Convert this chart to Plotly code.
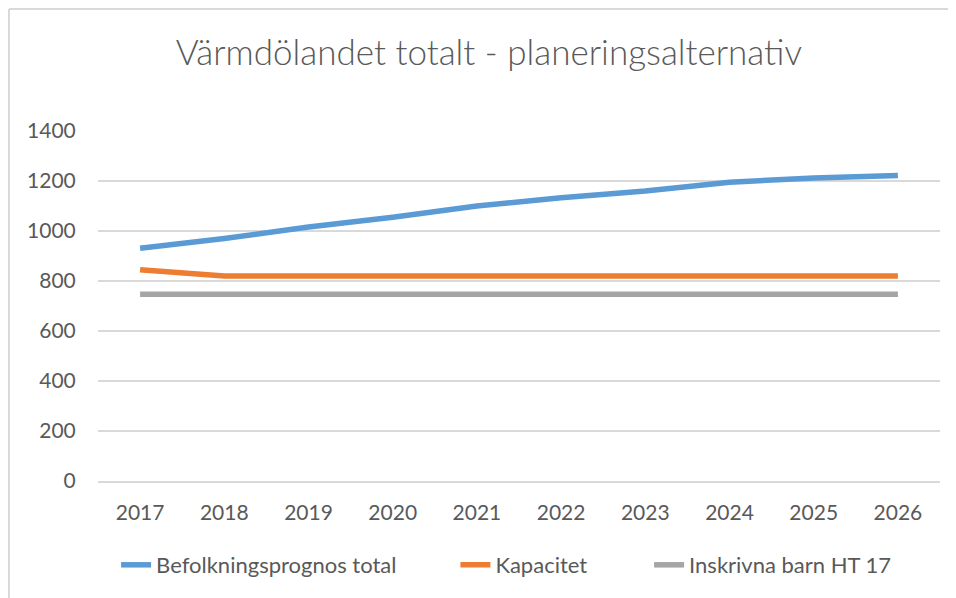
import plotly.graph_objects as go

years = ["2017", "2018", "2019", "2020", "2021", "2022", "2023", "2024", "2025", "2026"]
befolkning = [931, 970, 1016, 1055, 1100, 1133, 1160, 1195, 1212, 1222]
kapacitet = [845, 820, 820, 820, 820, 820, 820, 820, 820, 820]
inskrivna = [747, 747, 747, 747, 747, 747, 747, 747, 747, 747]

series = [
    ("Befolkningsprognos total", befolkning, "#5B9BD5", "legend", 0.0215),
    ("Kapacitet", kapacitet, "#ED7D31", "legend2", 0.4245),
    ("Inskrivna barn HT 17", inskrivna, "#A5A5A5", "legend3", 0.6545),
]

FONT = "Lato, 'Open Sans', sans-serif"
TEXT = "#595959"
GRID = "#D9D9D9"

# page body adds an 8px offset, margins account for it
L, R, T, B = 90, 24, 123, 125
PW = 956 - L - R
PH = 598 - T - B

fig = go.Figure()
legends = {}
for name, values, color, leg, lx in series:
    fig.add_trace(go.Scatter(
        x=years, y=values, mode="lines", name=name, legend=leg,
        line=dict(color=color, width=5.5),
    ))
    legends[leg] = dict(
        orientation="h", x=lx, xanchor="left", y=-0.24, yanchor="middle",
        font=dict(size=22, color=TEXT, family=FONT),
        bgcolor="rgba(0,0,0,0)",
    )

fig.update_layout(
    width=956, height=598,
    margin=dict(l=L, r=R, t=T, b=B),
    paper_bgcolor="white", plot_bgcolor="white",
    font=dict(family=FONT, color=TEXT, size=21),
    title=dict(
        text="Värmdölandet totalt - planeringsalternativ",
        x=0.503, xanchor="center", y=0.926, yanchor="middle",
        font=dict(family=FONT, size=35, color=TEXT, weight=300),
    ),
    showlegend=True,
    xaxis=dict(
        type="category", range=[-0.5, 9.5], showgrid=False,
        showline=True, linecolor=GRID, linewidth=1.5,
        ticks="outside", ticklen=12, tickcolor="rgba(0,0,0,0)",
        tickfont=dict(size=21, color=TEXT), zeroline=False,
    ),
    yaxis=dict(
        range=[0, 1400], dtick=200, showgrid=True,
        gridcolor=GRID, gridwidth=1.5, zeroline=False,
        ticks="outside", ticklen=17, tickcolor="rgba(0,0,0,0)",
        tickfont=dict(size=21, color=TEXT),
    ),
    shapes=[
        dict(type="line", xref="paper", yref="paper",
             x0=-89 / PW, x1=1 + R / PW, y0=1 + (T - 1) / PH, y1=1 + (T - 1) / PH,
             line=dict(color=GRID, width=2)),
        dict(type="line", xref="paper", yref="paper",
             x0=-89 / PW, x1=-89 / PW, y0=-B / PH, y1=1 + (T - 1) / PH,
             line=dict(color=GRID, width=2)),
    ],
    **legends,
)

fig.write_html("out.html")
